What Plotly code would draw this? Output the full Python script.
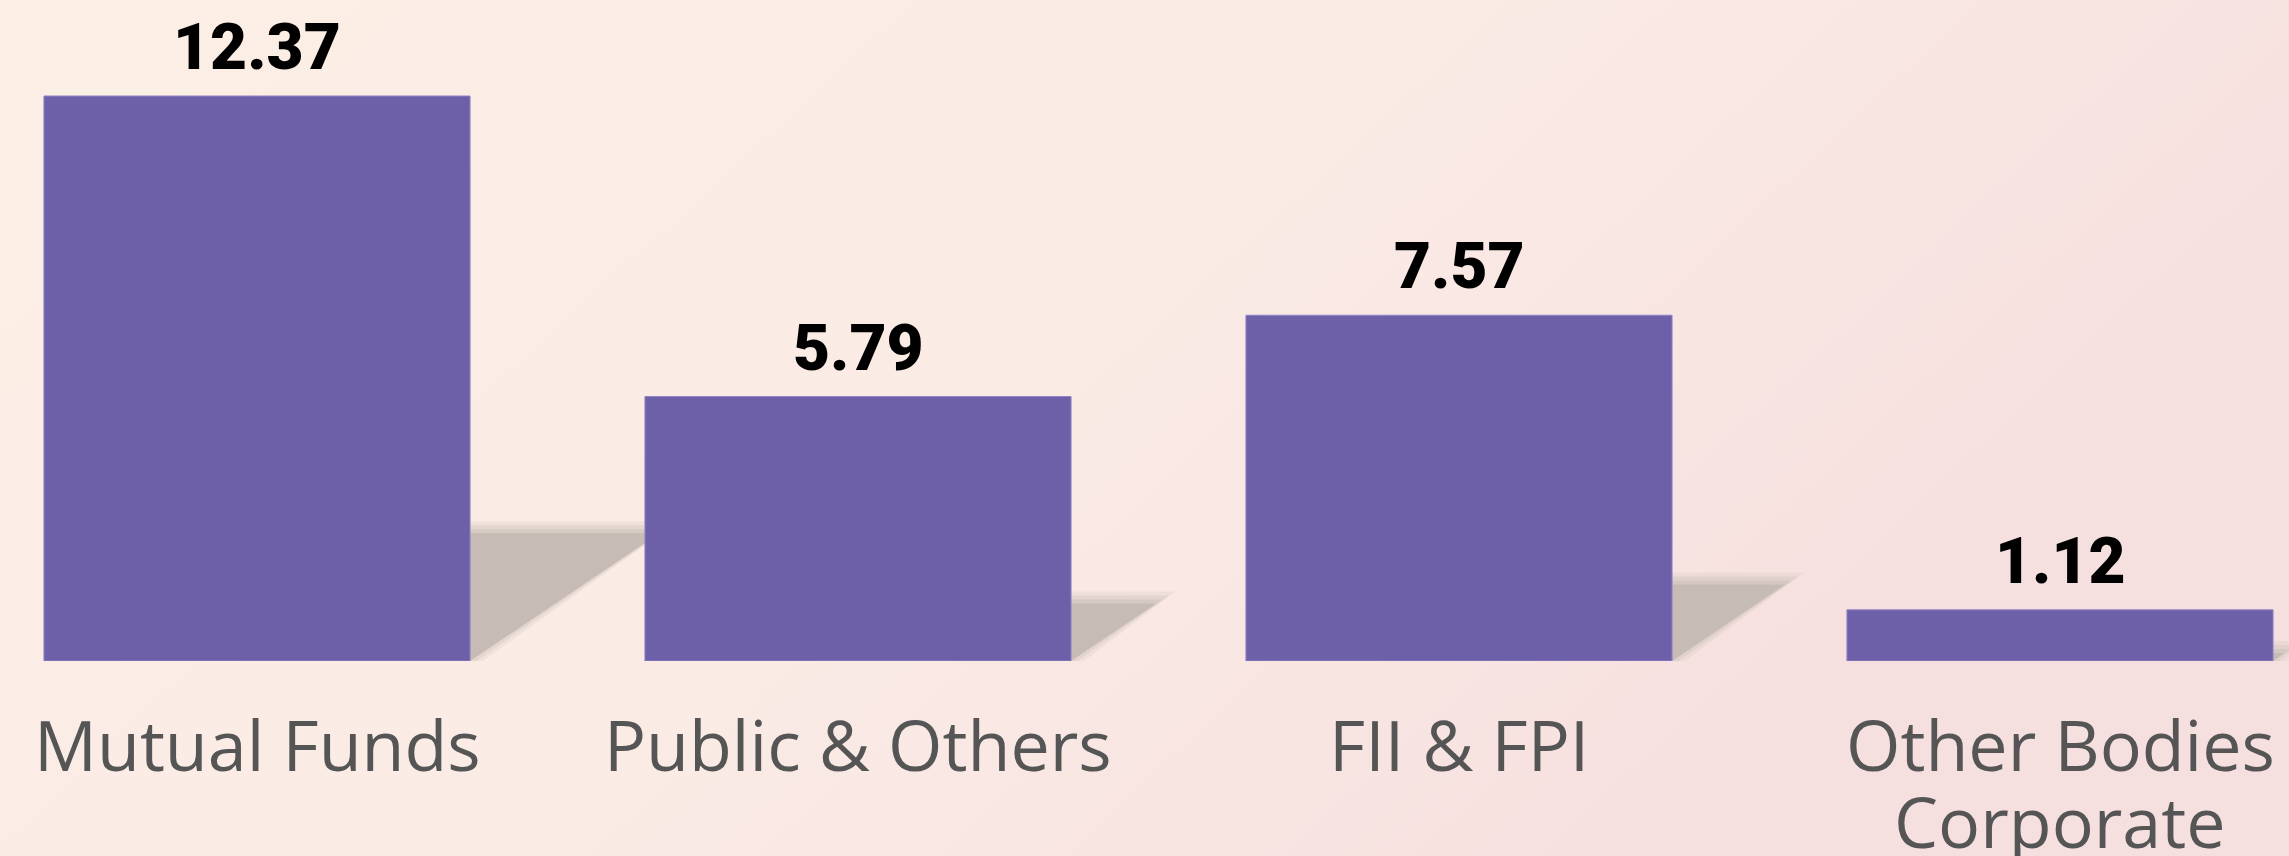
import base64
import plotly.graph_objects as go

# ---------------- data ----------------
categories = ["Mutual Funds", "Public & Others", "FII & FPI", "Other Bodies<br>Corporate"]
values = [12.37, 5.79, 7.57, 1.12]
value_labels = ["12.37", "5.79", "7.57", "1.12"]

# ---------------- styling ----------------
W, H = 2289, 856
BAR_COLOR = "#6d60a9"
SHADOW_COLOR = "#c7bcb5"
bar_width = 0.709
x_pos = list(range(len(categories)))

plot_bottom = 195
plot_h = H - plot_bottom
px_per_unit = (661 - 96) / 12.37
y_top = plot_h / px_per_unit
spacing_px = 601
center0 = 257

fig = go.Figure()

fig.add_trace(go.Bar(
    x=x_pos, y=values, width=bar_width,
    marker=dict(color=BAR_COLOR, line=dict(width=1, color="#8f83c4")),
    hoverinfo="skip", showlegend=False,
))

# soft (blurred-looking) diagonal drop shadows behind each bar, derived from values
shapes = []
ux = 1.0 / spacing_px      # one pixel in x data units
uy = 1.0 / px_per_unit     # one pixel in y data units
for xi, v in zip(x_pos, values):
    xr = xi + bar_width / 2
    h = 0.233 * v
    d = 0.0263 * v
    for e, op in [(8, 0.2), (4, 0.3), (0, 0.45), (-4, 1.0)]:
        top = h + e * uy
        x_top = xr + d + e * ux * 1.6
        x_bot = xr + e * ux * 1.6
        if x_bot < xr:
            x_bot = xr
        shapes.append(dict(
            type="path", xref="x", yref="y", layer="below",
            path=f"M {xr},0 L {xr},{top} L {x_top},{top} L {x_bot},0 Z",
            fillcolor=SHADOW_COLOR, opacity=op, line=dict(width=0),
        ))

annotations = []
# value labels
for xi, v, lab in zip(x_pos, values, value_labels):
    annotations.append(dict(
        x=xi, y=v, xref="x", yref="y", text=lab, showarrow=False,
        yanchor="bottom", xanchor="center", yshift=9,
        font=dict(family="Roboto", size=64, color="#000000", weight=900),
    ))

# category labels (one annotation per line for tighter line spacing)
LINE_GAP = 77
for xi, cat in zip(x_pos, categories):
    for li, line in enumerate(cat.split("<br>")):
        annotations.append(dict(
            x=xi, y=0, xref="x", yref="y", text=line, showarrow=False,
            yanchor="top", xanchor="center", yshift=-42 - LINE_GAP * li,
            height=LINE_GAP, valign="middle",
            font=dict(family="Open Sans", size=70, color="#555555"),
        ))

# background gradient as svg image
svg = (
    '<svg xmlns="http://www.w3.org/2000/svg" width="2289" height="856">'
    '<defs><linearGradient id="g" x1="0" y1="0" x2="1" y2="0.4">'
    '<stop offset="0" stop-color="#fcefe5"/>'
    '<stop offset="0.55" stop-color="#faebe5"/>'
    '<stop offset="1" stop-color="#f6dfdf"/>'
    '</linearGradient></defs>'
    '<rect width="2289" height="856" fill="url(#g)"/></svg>'
)
src = "data:image/svg+xml;base64," + base64.b64encode(svg.encode()).decode()

fig.update_layout(
    width=W, height=H,
    margin=dict(l=0, r=0, t=0, b=plot_bottom, pad=0),
    paper_bgcolor="#faece5",
    plot_bgcolor="rgba(0,0,0,0)",
    shapes=shapes,
    annotations=annotations,
    images=[dict(
        source=src, xref="paper", yref="paper", x=0, y=1,
        sizex=1, sizey=H / plot_h, xanchor="left", yanchor="top",
        sizing="stretch", layer="below",
    )],
    xaxis=dict(
        range=[-center0 / spacing_px, (W - center0) / spacing_px],
        showticklabels=False, ticks="",
        showgrid=False, zeroline=False, showline=False, automargin=False,
        fixedrange=True,
    ),
    yaxis=dict(
        range=[0, y_top], visible=False, showgrid=False, zeroline=False,
        automargin=False, fixedrange=True,
    ),
    bargap=0.29,
)

fig.write_html(
    "out.html",
    config={"displayModeBar": False},
    post_script="document.body.style.margin='0';document.body.style.overflow='hidden';",
)
